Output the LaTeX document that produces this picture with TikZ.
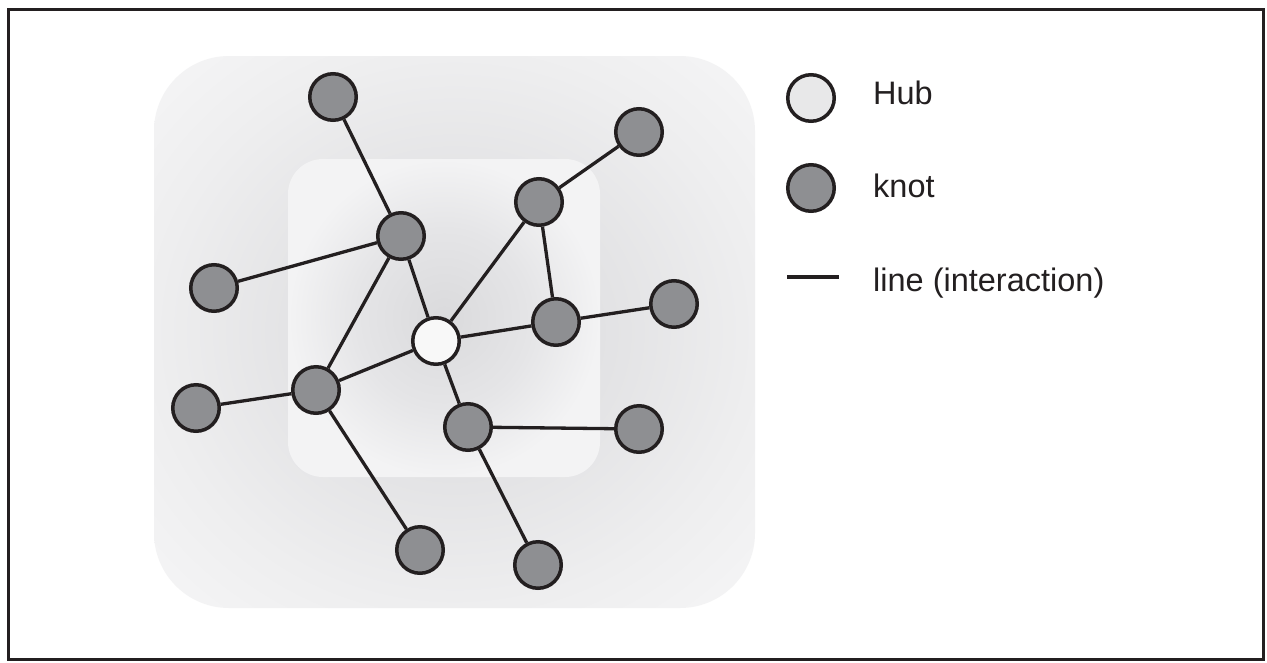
\documentclass[tikz,border=0pt]{standalone}
\usepackage{fontspec}
\setmainfont{Liberation Sans}
\definecolor{ink}{HTML}{231F20}
\definecolor{knotfill}{HTML}{8E8F92}
\definecolor{hubfill}{HTML}{F8F8F8}
\definecolor{hublegfill}{HTML}{E8E8E9}
\definecolor{bgdark}{HTML}{D7D7D9}
\definecolor{bgmid}{HTML}{E2E2E4}
\definecolor{bglight}{HTML}{EEEEEF}
\definecolor{bgcorner}{HTML}{F5F5F6}
\definecolor{indark}{HTML}{DADADC}
\definecolor{inmid}{HTML}{E5E5E7}
\definecolor{inlight}{HTML}{F3F3F4}
% soft radial backdrops behind the network (the central 50bp square fills the path)
\pgfdeclareradialshading{outerbg}{\pgfpoint{0bp}{0bp}}{color(0bp)=(bgdark); color(12bp)=(bgmid); color(25bp)=(bglight); color(35bp)=(bgcorner); color(50bp)=(bgcorner)}
\pgfdeclareradialshading{innerbg}{\pgfpoint{0bp}{0bp}}{color(0bp)=(indark); color(14bp)=(inmid); color(25bp)=(inlight); color(50bp)=(inlight)}
\tikzset{
  knot/.style={circle, draw=ink, line width=3.5pt, fill=knotfill, minimum size=46.5pt, inner sep=0pt},
  hub/.style={knot, fill=hubfill},
  hubleg/.style={knot, fill=hublegfill},
  link/.style={draw=ink, line width=3.3pt},
  legtext/.style={anchor=base west, inner sep=0pt, text=ink, font=\fontsize{32.5}{38}\selectfont},
}
\begin{document}
\begin{tikzpicture}[x=1pt, y=-1pt]
\useasboundingbox (0,0) rectangle (1267,662);
\fill[white] (0,0) rectangle (1267,662);
% frame
\draw[ink, line width=3pt] (8,9.7) rectangle (1263,659.5);
% backdrops
\path[shading=outerbg, rounded corners=75pt] (154,56) rectangle (755,608);
\path[shading=innerbg, rounded corners=35pt] (288,159) rectangle (600,477);

% network nodes
\node[knot] (a) at (333,97) {};
\node[knot] (b) at (401,236) {};
\node[knot] (c) at (214,288) {};
\node[knot] (d) at (316,390) {};
\node[knot] (e) at (196,408) {};
\node[hub]  (h) at (436,341) {};
\node[knot] (f) at (539,202) {};
\node[knot] (g) at (639,132) {};
\node[knot] (i) at (556,322) {};
\node[knot] (j) at (674,304) {};
\node[knot] (k) at (468,427) {};
\node[knot] (l) at (639,429) {};
\node[knot] (m) at (420,550) {};
\node[knot] (n) at (538,565) {};

% interactions
\draw[link] (a) -- (b);
\draw[link] (b) -- (c);
\draw[link] (b) -- (d);
\draw[link] (b) -- (h);
\draw[link] (d) -- (e);
\draw[link] (d) -- (h);
\draw[link] (d) -- (m);
\draw[link] (h) -- (f);
\draw[link] (f) -- (g);
\draw[link] (f) -- (i);
\draw[link] (h) -- (i);
\draw[link] (i) -- (j);
\draw[link] (h) -- (k);
\draw[link] (k) -- (l);
\draw[link] (k) -- (n);

% legend
\node[hubleg] (lhub) at (811,98) {};
\node[knot] (lknot) at (811,188) {};
\coordinate (lla) at (787,277);
\coordinate (llb) at (839,277);
\draw[ink, line width=3.8pt] (lla) -- (llb);
\node[legtext] (thub) at (873,104) {Hub};
\node[legtext] (tknot) at (873,197) {knot};
\node[legtext] (tline) at (873,291) {line (interaction)};
\end{tikzpicture}
\end{document}
